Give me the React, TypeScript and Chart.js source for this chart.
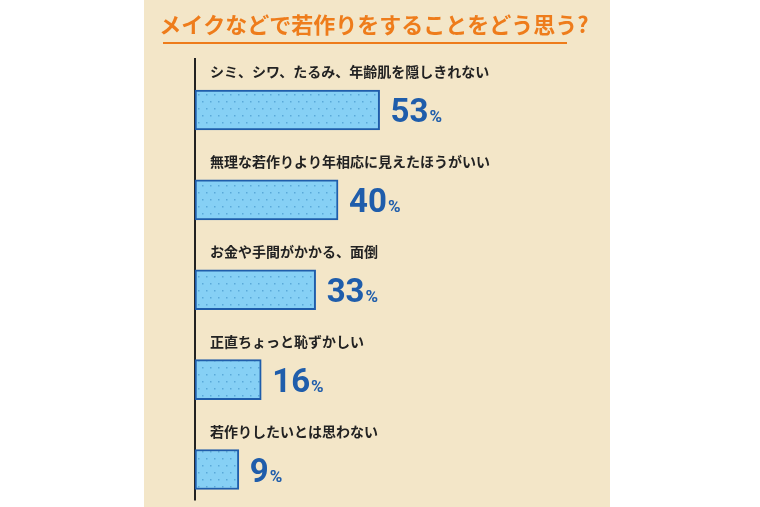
import * as React from 'react';
import { Chart, registerables } from 'chart.js';

Chart.register(...registerables);

const TITLE = 'メイクなどで若作りをすることをどう思う?';
const categories = [
  'シミ、シワ、たるみ、年齢肌を隠しきれない',
  '無理な若作りより年相応に見えたほうがいい',
  'お金や手間がかかる、面倒',
  '正直ちょっと恥ずかしい',
  '若作りしたいとは思わない',
];
const percents = [53, 40, 33, 16, 9];

const X_MIN = -4.7;
const X_MAX = 125;

const BEIGE = '#f3e6c8';
const ORANGE = '#ee7c1b';
const BLUE = '#1f5dab';
const BAR_FILL = '#86d0f5';
const DOT = '#5aa9d9';
const JP_FONT = '"Noto Sans CJK JP", "Noto Sans", sans-serif';

const makePattern = () => {
  const tile = document.createElement('canvas');
  tile.width = 8;
  tile.height = 14;
  const c = tile.getContext('2d')!;
  c.fillStyle = BAR_FILL;
  c.fillRect(0, 0, 8, 14);
  c.fillStyle = DOT;
  c.fillRect(2, 3, 1.5, 1.5);
  c.fillRect(6, 10, 1.5, 1.5);
  const ctx = document.createElement('canvas').getContext('2d')!;
  return ctx.createPattern(tile, 'repeat') || BAR_FILL;
};

// background panel, title and the vertical axis line
const backdrop = {
  id: 'backdrop',
  beforeDraw(chart: any) {
    const { ctx, chartArea } = chart;
    ctx.save();
    ctx.fillStyle = '#ffffff';
    ctx.fillRect(0, 0, chart.width, chart.height);
    ctx.fillStyle = BEIGE;
    ctx.fillRect(144, 0, 466, chart.height);

    ctx.fillStyle = ORANGE;
    ctx.font = `bold 22px ${JP_FONT}`;
    ctx.textAlign = 'center';
    ctx.textBaseline = 'middle';
    ctx.fillText(TITLE, 374, 25);
    ctx.strokeStyle = ORANGE;
    ctx.lineWidth = 2;
    ctx.beginPath();
    ctx.moveTo(163, 43);
    ctx.lineTo(567, 43);
    ctx.stroke();

    ctx.strokeStyle = '#222';
    ctx.lineWidth = 2;
    ctx.beginPath();
    ctx.moveTo(chartArea.left, chartArea.top - 52);
    ctx.lineTo(chartArea.left, chartArea.bottom + 31);
    ctx.stroke();
    ctx.restore();
  },
};

// category text above each bar, percentage to the right
const barText = {
  id: 'barText',
  afterDatasetsDraw(chart: any) {
    const { ctx, chartArea } = chart;
    const meta = chart.getDatasetMeta(0);
    ctx.save();
    meta.data.forEach((bar: any, i: number) => {
      ctx.fillStyle = '#222';
      ctx.font = `bold 14px ${JP_FONT}`;
      ctx.textAlign = 'left';
      ctx.textBaseline = 'middle';
      ctx.fillText(categories[i], chartArea.left + 15, bar.y - 38);

      const x = bar.x + 11;
      const base = bar.y + 12;
      ctx.fillStyle = BLUE;
      ctx.textBaseline = 'alphabetic';
      ctx.font = 'bold 33px Roboto';
      const num = String(percents[i]);
      ctx.fillText(num, x, base);
      const w = ctx.measureText(num).width;
      ctx.font = 'bold 17px Roboto';
      ctx.fillText('%', x + w + 1, base);
    });
    ctx.restore();
  },
};

export default function App() {
  const canvasRef = React.useRef<HTMLCanvasElement>(null);

  React.useEffect(() => {
    if (!canvasRef.current) return;
    const chart = new Chart(canvasRef.current, {
      type: 'bar',
      data: {
        labels: categories,
        datasets: [
          {
            data: percents,
            base: X_MIN,
            backgroundColor: makePattern() as any,
            borderColor: BLUE,
            borderWidth: 2,
            borderSkipped: false,
            barThickness: 40,
            clip: false as any,
          },
        ],
      },
      options: {
        indexAxis: 'y',
        responsive: false,
        animation: false,
        layout: { padding: { left: 195, right: 150, top: 110, bottom: 37.5 } },
        scales: {
          x: { type: 'linear', min: X_MIN, max: X_MAX, display: false },
          y: { type: 'category', offset: false, display: false },
        },
        plugins: {
          legend: { display: false },
          tooltip: { enabled: false },
        },
      },
      plugins: [backdrop, barText],
    });
    return () => chart.destroy();
  }, []);

  return (
    <div style={{ position: 'absolute', left: 0, top: 0, width: 760, height: 507, background: '#fff' }}>
      <canvas ref={canvasRef} width={760} height={507} />
    </div>
  );
}
